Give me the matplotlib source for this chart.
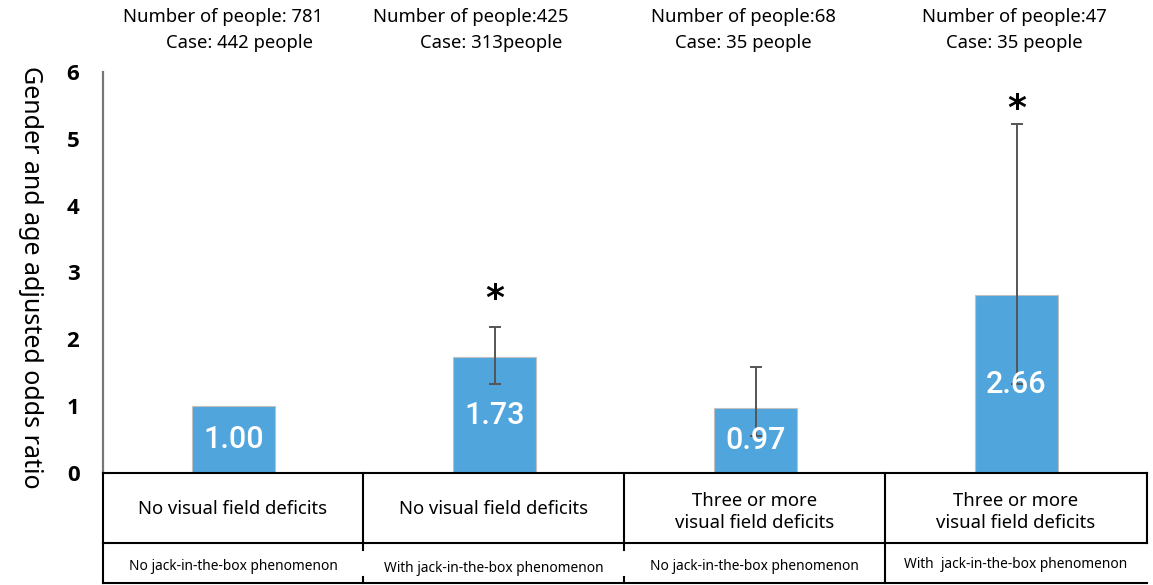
import matplotlib
matplotlib.use("Agg")
import matplotlib.pyplot as plt

plt.rcParams['font.family'] = ['Noto Sans', 'DejaVu Sans']

# ---- data ----
groups = ["G1", "G2", "G3", "G4"]
odds = [1.00, 1.73, 0.97, 2.66]
ci_low = [None, 1.33, 0.55, 1.33]
ci_high = [None, 2.18, 1.58, 5.22]
signif = [False, True, False, True]
value_labels = ["1.00", "1.73", "0.97", "2.66"]
header_line1 = ["Number of people: 781", "Number of people:425", "Number of people:68", "Number of people:47"]
header_line2 = ["Case: 442 people", "Case: 313people", "Case: 35 people", "Case: 35 people"]
row1_labels = ["No visual field deficits", "No visual field deficits",
               "Three or more\nvisual field deficits", "Three or more\nvisual field deficits"]
row2_labels = ["No jack-in-the-box phenomenon", "With jack-in-the-box phenomenon",
               "No jack-in-the-box phenomenon", "With  jack-in-the-box phenomenon"]
yticks = [0, 1, 2, 3, 4, 5, 6]
ylabel = "Gender and age adjusted odds ratio"

W, H = 1153, 585
fig = plt.figure(figsize=(W / 100, H / 100), dpi=100)
ax_left, ax_right, ax_bot, ax_top = 103, 1147, 473, 72
ax = fig.add_axes([ax_left / W, 1 - ax_bot / H, (ax_right - ax_left) / W, (ax_bot - ax_top) / H])

x = list(range(len(groups)))
bar_color = "#4FA5DC"
ax.bar(x, odds, width=0.315, color=bar_color, edgecolor="#c0c0c0", linewidth=0.8, zorder=2)

star_offsets = [0, 8, 0, -1]
for i in x:
    if ci_high[i] is not None:
        ax.errorbar(i, odds[i], yerr=[[odds[i] - ci_low[i]], [ci_high[i] - odds[i]]],
                    fmt="none", ecolor="#555555", elinewidth=1.4, capsize=4, capthick=1.4, zorder=3)
    ax.text(i, odds[i] / 2, value_labels[i], ha="center", va="center", color="white",
            fontsize=22, family="Roboto", fontweight="medium", zorder=4)
    if signif[i]:
        ax.annotate("*", (i, ci_high[i]), xytext=(0, star_offsets[i]), textcoords="offset points",
                    ha="center", va="bottom", fontsize=26, fontweight="bold", family="DejaVu Sans")

ax.set_xlim(-0.5, 3.5)
ax.set_ylim(0, 6)
ax.set_yticks(yticks)
ax.set_yticklabels([str(t) for t in yticks], fontsize=16, fontweight="bold", family="Open Sans")
ax.tick_params(axis="y", length=0, pad=17)
ax.set_xticks([])
for s in ["top", "right"]:
    ax.spines[s].set_visible(False)
ax.spines["left"].set_color("#777777")
ax.spines["left"].set_linewidth(1.6)
ax.spines["bottom"].set_color("black")
ax.spines["bottom"].set_linewidth(1.5)

# y label
fig.text(30 / W, 1 - 277 / H, ylabel, rotation=-90, ha="center", va="center", fontsize=18)

h1_x = [223, 471, 743, 1014]
h2_x = [240, 491, 743, 1014]
for i in x:
    fig.text(h1_x[i] / W, 1 - 17 / H, header_line1[i], ha="center", va="center", fontsize=13.3)
    fig.text(h2_x[i] / W, 1 - 43 / H, header_line2[i], ha="center", va="center", fontsize=13.3)

# table below axis (figure pixel coordinates -> fraction)
def fx(px):
    return px / W
def fy(py):
    return 1 - py / H

col_edges = [103, 363, 624, 885, 1147]
row1_top, row1_bot, row2_bot = 473, 543, 583
lines = []
lines.append(([col_edges[0], col_edges[-1]], [row1_bot, row1_bot], 1.5))
for cx in col_edges:
    lines.append(([cx, cx], [row1_top, row1_bot], 1.5))
lines.append(([col_edges[0], col_edges[-1]], [row2_bot, row2_bot], 1.5))
lines.append(([col_edges[0], col_edges[0]], [row1_bot, row2_bot], 1.5))
for cx in col_edges[1:3]:
    lines.append(([cx, cx], [row1_bot, row1_bot + 7], 1.5))
    lines.append(([cx, cx], [row2_bot - 6, row2_bot], 1.5))
lines.append(([col_edges[3], col_edges[3]], [row1_bot, row2_bot], 1.5))
for xs, ys, lw in lines:
    fig.add_artist(plt.Line2D([fx(v) for v in xs], [fy(v) for v in ys], color="black", lw=lw))

r1_y = [509, 509, 512, 512]
r2_y = [566, 568, 566, 564]
for i in x:
    cxm = (col_edges[i] + col_edges[i + 1]) / 2
    fig.text(fx(cxm), fy(r1_y[i]), row1_labels[i], ha="center", va="center", fontsize=13.3,
             linespacing=1.3)
    fig.text(fx(cxm), fy(r2_y[i]), row2_labels[i], ha="center", va="center", fontsize=9.9)

fig.savefig("out.png", dpi=100)
